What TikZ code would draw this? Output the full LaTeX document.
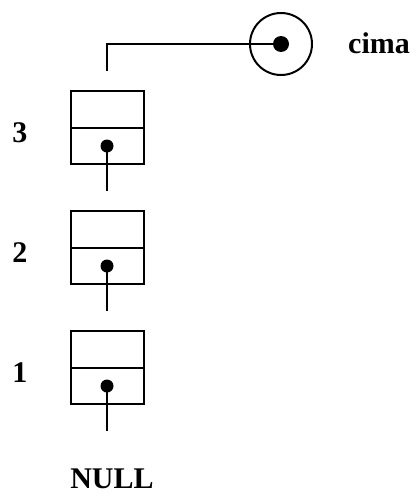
\documentclass[tikz,border=0pt]{standalone}
\usepackage{fontspec}
\setmainfont{Liberation Serif}
\usetikzlibrary{positioning}

\tikzset{
  cell/.style={draw, line width=2pt, minimum width=73pt, minimum height=36.5pt,
               inner sep=0pt, outer sep=0pt},
  ptr/.style={circle, fill, inner sep=0pt, minimum size=13pt},
  lbl/.style={font=\fontsize{30}{32}\selectfont\bfseries, anchor=base},
  wire/.style={line width=2pt}
}

\begin{document}
\begin{tikzpicture}[x=1pt,y=-1pt]
  \useasboundingbox (0,0) rectangle (417,498);

  % variable cima
  \node[circle,draw,line width=2pt,minimum size=62pt,inner sep=0pt] (cima) at (281,44) {};
  \node[ptr,minimum size=16pt] (cimadot) at (cima.center) {};
  \node[lbl] (cimatxt) at (379,53) {cima};

  % the three cells of the stack
  \node[cell] (d3) at (107,109.5) {};
  \node[cell] (n3)[below=0pt of d3] {};
  \node[cell] (d2) at (107,229.5) {};
  \node[cell] (n2)[below=0pt of d2] {};
  \node[cell] (d1) at (107,349.5) {};
  \node[cell] (n1)[below=0pt of d1] {};

  \node[ptr] (p3) at (n3.center) {};
  \node[ptr] (p2) at (n2.center) {};
  \node[ptr] (p1) at (n1.center) {};

  \coordinate (in3) at (107,71);
  \coordinate (e3) at (107,191);
  \coordinate (e2) at (107,311);
  \coordinate (e1) at (107,431);

  \node[lbl] (l3) at (20,142) {3};
  \node[lbl] (l2) at (20,262) {2};
  \node[lbl] (l1) at (20,382) {1};
  \node[lbl] (null) at (112,488) {NULL};

  \draw[wire] (cimadot.center) -| (in3);
  \draw[wire] (p3.center) -- (e3);
  \draw[wire] (p2.center) -- (e2);
  \draw[wire] (p1.center) -- (e1);
\end{tikzpicture}
\end{document}
